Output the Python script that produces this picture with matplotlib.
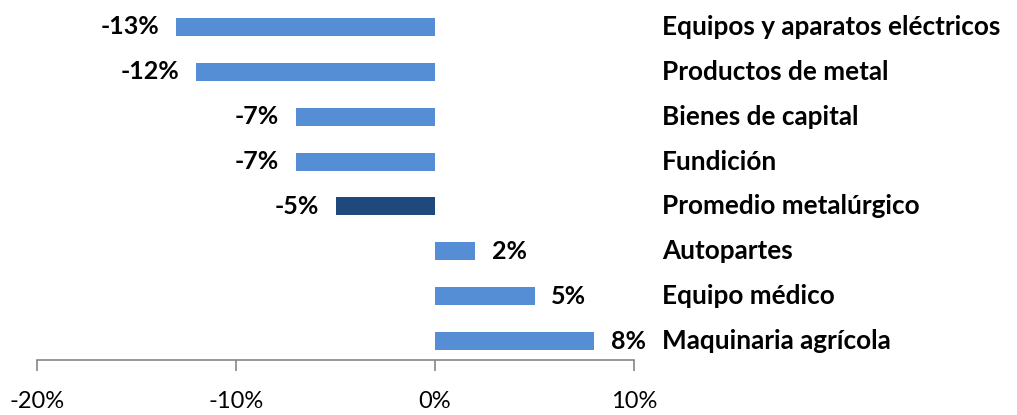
import matplotlib
matplotlib.use("Agg")
import matplotlib.pyplot as plt
import matplotlib.transforms as mtransforms

categories = ["Equipos y aparatos eléctricos", "Productos de metal", "Bienes de capital",
              "Fundición", "Promedio metalúrgico", "Autopartes", "Equipo médico",
              "Maquinaria agrícola"]
values = [-13, -12, -7, -7, -5, 2, 5, 8]
highlight = "Promedio metalúrgico"
xticks = [-20, -10, 0, 10]
xtick_labels = ["-20%", "-10%", "0%", "10%"]

light = "#558ED5"
dark = "#1F497D"

plt.rcParams['font.family'] = ['Lato', 'DejaVu Sans']

fig = plt.figure(figsize=(10.17, 4.15), dpi=100)
W, H = 1017, 415
ax = fig.add_axes([37 / W, 55 / H, (634 - 37) / W, 355.6 / H])

n = len(categories)
ypos = [n - 1 - i for i in range(n)]
colors = [dark if c == highlight else light for c in categories]
ax.barh(ypos, values, height=0.4, color=colors, zorder=2)

ax.set_xlim(-20, 10)
ax.set_ylim(-0.42, n - 0.5)
ax.set_yticks([])
ax.set_xticks(xticks)
ax.set_xticklabels(xtick_labels, fontsize=17)
for s in ["top", "right", "left"]:
    ax.spines[s].set_visible(False)
ax.spines["bottom"].set_color("#868686")
ax.spines["bottom"].set_linewidth(1.2)
ax.tick_params(axis="x", direction="out", length=8, width=1.2, color="#868686",
               pad=14, labelcolor="#000000")

trans = mtransforms.blended_transform_factory(ax.transAxes, ax.transData)
for y, v, c in zip(ypos, values, categories):
    if v < 0:
        ax.text(v - 0.85, y, f"{v}%", ha="right", va="center", fontsize=18,
                fontweight="bold", color="#000000")
    else:
        ax.text(v + 0.85, y, f"{v}%", ha="left", va="center", fontsize=18,
                fontweight="bold", color="#000000")
    ax.text((662 - 37) / (634 - 37), y, c, transform=trans, ha="left", va="center",
            fontsize=18.8, fontweight="bold", color="#000000")

fig.savefig("out.png", dpi=100)
